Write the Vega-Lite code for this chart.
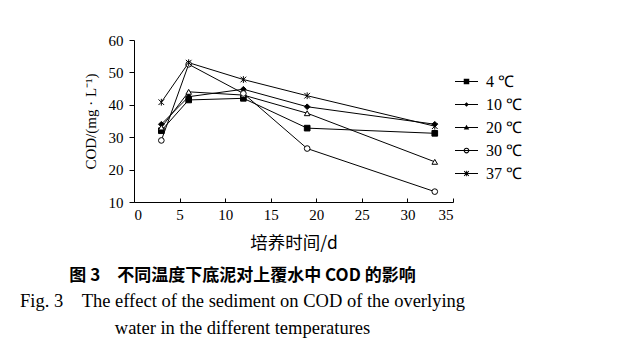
{
  "$schema": "https://vega.github.io/schema/vega-lite/v6.json",
  "autosize": {"type": "none"},
  "padding": {"left": 134, "top": 40, "right": 173, "bottom": 161},
  "width": 319,
  "height": 162,
  "background": "white",
  "config": {
    "view": {"stroke": null},
    "font": "Liberation Serif",
    "axis": {"grid": false, "domainColor": "black", "tickColor": "black", "labelColor": "black", "titleColor": "black", "labelFont": "Liberation Serif", "labelFontSize": 15, "titleFont": "Liberation Serif", "titleFontWeight": "normal", "titleFontSize": 15, "domainWidth": 1, "tickWidth": 1}
  },
  "title": {
    "text": "图 3\u2003不同温度下底泥对上覆水中 COD 的影响",
    "subtitle": ["Fig. 3\u2003The effect of the sediment on COD of the overlying", "water in the different temperatures"],
    "orient": "bottom",
    "anchor": "middle",
    "dx": -51,
    "offset": 16,
    "font": "Noto Sans CJK SC",
    "fontSize": 17,
    "fontWeight": "bold",
    "color": "black",
    "subtitleFont": "Liberation Serif",
    "subtitleFontSize": 18.5,
    "subtitleColor": "black",
    "subtitleLineHeight": 27,
    "subtitlePadding": 7
  },
  "data": {
    "values": [
      {"t": "4 ℃", "day": 3, "cod": 32},
      {"t": "4 ℃", "day": 6, "cod": 41.5},
      {"t": "4 ℃", "day": 12, "cod": 42},
      {"t": "4 ℃", "day": 19, "cod": 32.8},
      {"t": "4 ℃", "day": 33, "cod": 31.2},
      {"t": "10 ℃", "day": 3, "cod": 34},
      {"t": "10 ℃", "day": 6, "cod": 42.5},
      {"t": "10 ℃", "day": 12, "cod": 44.8},
      {"t": "10 ℃", "day": 19, "cod": 39.4},
      {"t": "10 ℃", "day": 33, "cod": 34},
      {"t": "20 ℃", "day": 3, "cod": 33},
      {"t": "20 ℃", "day": 6, "cod": 44},
      {"t": "20 ℃", "day": 12, "cod": 43},
      {"t": "20 ℃", "day": 19, "cod": 37.4},
      {"t": "20 ℃", "day": 33, "cod": 22.4},
      {"t": "30 ℃", "day": 3, "cod": 29},
      {"t": "30 ℃", "day": 6, "cod": 52.5},
      {"t": "30 ℃", "day": 12, "cod": 43.5},
      {"t": "30 ℃", "day": 19, "cod": 26.5},
      {"t": "30 ℃", "day": 33, "cod": 13.2},
      {"t": "37 ℃", "day": 3, "cod": 40.8},
      {"t": "37 ℃", "day": 6, "cod": 53},
      {"t": "37 ℃", "day": 12, "cod": 47.8},
      {"t": "37 ℃", "day": 19, "cod": 42.8},
      {"t": "37 ℃", "day": 33, "cod": 33.4}
    ]
  },
  "encoding": {
    "x": {"field": "day", "type": "quantitative", "scale": {"domain": [0, 35], "nice": false}, "axis": {"title": "培养时间/d", "titleFont": "Noto Sans CJK SC", "titleFontSize": 17.5, "labelFont": "Liberation Serif", "values": [0, 5, 10, 15, 20, 25, 30, 35], "tickSize": -4, "labelPadding": 9, "titlePadding": 12}},
    "y": {"field": "cod", "type": "quantitative", "scale": {"domain": [10, 60], "nice": false, "zero": false}, "axis": {"title": "COD/(mg · L⁻¹)", "labelFont": "Liberation Serif", "values": [10, 20, 30, 40, 50, 60], "tickSize": 5, "labelPadding": 6, "titlePadding": 10}}
  },
  "layer": [
    {
      "mark": {"type": "line", "color": "black", "strokeWidth": 1},
      "encoding": {"detail": {"field": "t"}}
    },
    {
      "mark": {"type": "point", "filled": true, "stroke": "black", "strokeWidth": 1, "size": 32, "opacity": 1},
      "encoding": {
        "shape": {"field": "t", "type": "nominal", "scale": {"domain": ["4 ℃", "10 ℃", "20 ℃", "30 ℃", "37 ℃"], "range": ["square", "diamond", "triangle-up", "circle", "M-1,-1L1,1M-1,1L1,-1M0,-1.2L0,1.2"]}, "legend": null},
        "fill": {"field": "t", "type": "nominal", "scale": {"domain": ["4 ℃", "10 ℃", "20 ℃", "30 ℃", "37 ℃"], "range": ["black", "black", "white", "white", "black"]}, "legend": null}
      }
    },
    {
      "transform": [{"filter": "datum.day < 0"}],
      "mark": {"type": "point", "filled": true, "color": "black", "strokeWidth": 0, "opacity": 1},
      "encoding": {
        "shape": {
          "field": "t", "type": "nominal",
          "scale": {"domain": ["4 ℃", "10 ℃", "20 ℃", "30 ℃", "37 ℃"], "range": [
            "M-1,-0.045H1V0.045H-1Z M-0.24,-0.24H0.24V0.24H-0.24Z",
            "M-1,-0.045H1V0.045H-1Z M0,-0.2L0.2,0L0,0.2L-0.2,0Z",
            "M-1,-0.045H1V0.045H-1Z M0,-0.24L0.24,0.18L-0.24,0.18Z",
            "M-1,-0.045H1V0.045H-1Z M-0.25,0A0.25,0.25 0 1,1 0.25,0A0.25,0.25 0 1,1 -0.25,0Z M-0.15,0A0.15,0.15 0 1,0 0.15,0A0.15,0.15 0 1,0 -0.15,0Z",
            "M-1,-0.045H1V0.045H-1Z M-0.17,-0.23L0.23,0.17L0.17,0.23L-0.23,-0.17Z M-0.23,0.17L0.17,-0.23L0.23,-0.17L-0.17,0.23Z M-0.035,-0.24H0.035V0.24H-0.035Z"
          ]},
          "legend": {
            "title": null,
            "orient": "none",
            "legendX": 321,
            "legendY": 30,
            "padding": 0,
            "rowPadding": 3,
            "symbolSize": 529,
            "symbolFillColor": "black",
            "symbolStrokeWidth": 0,
            "symbolOpacity": 1,
            "labelOffset": 8,
            "labelFont": "Liberation Serif",
            "labelFontSize": 16,
            "labelColor": "black",
            "labelExpr": "datum.label == '4 ℃' ? '\u2007' + datum.label : datum.label"
          }
        }
      }
    }
  ],
  "resolve": {"scale": {"shape": "independent"}}
}
